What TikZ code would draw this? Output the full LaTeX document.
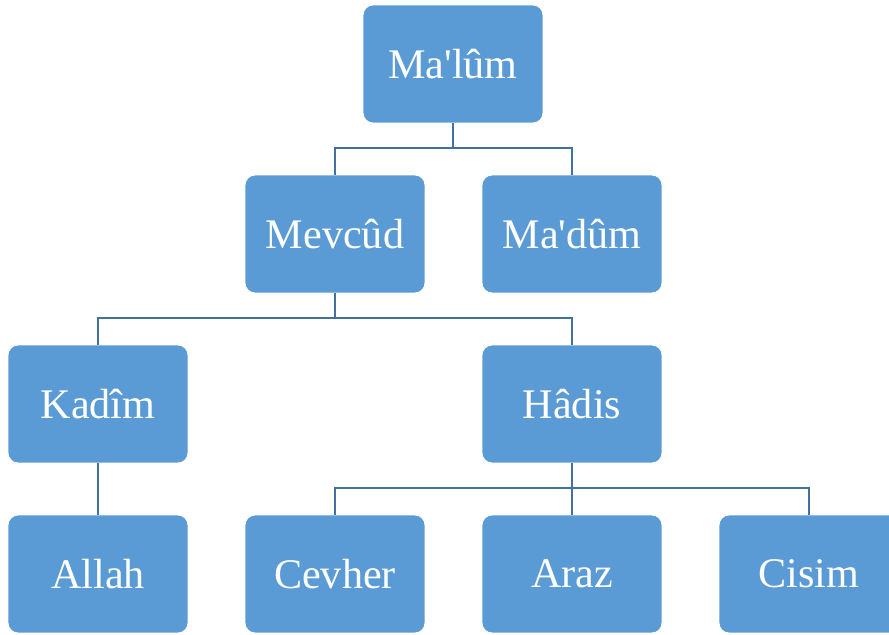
\documentclass[tikz,border=0pt]{standalone}
\usepackage{fontspec}
\setmainfont{Liberation Serif}
\definecolor{boxblue}{HTML}{5B9BD5}
\definecolor{linkblue}{HTML}{41719C}
\begin{document}
\begin{tikzpicture}[
 x=0.02cm, y=-0.02cm,
 line width=1.1pt,
 align=center,
 inner sep=1mm,
 box/.style={draw=white,line width=0.5pt,fill=boxblue,rectangle,rounded corners=0.2cm,minimum width=3.6cm,minimum height=2.36cm,text=white,font=\fontsize{24}{28}\selectfont},
 link/.style={draw=linkblue}
]
\useasboundingbox (0,0) rectangle (889,635);
\node (malum-box) [box] at (453,64) {Ma\textquotesingle lûm};
\node (mevcud-box) [box] at (335,234) {Mevcûd};
\node (madum-box) [box] at (572,234) {Ma\textquotesingle dûm};
\node (kadim-box) [box] at (98,404) {Kadîm};
\node (hadis-box) [box] at (572,404) {Hâdis};
\node (allah-box) [box] at (98,574) {Allah};
\node (cevher-box) [box] at (335,574) {Cevher};
\node (araz-box) [box] at (572,574) {Araz};
\node (cisim-box) [box] at (809,574) {Cisim};
\draw [link] (malum-box.south) -- ++(0,25) -| (mevcud-box.north);
\draw [link] (malum-box.south) -- ++(0,25) -| (madum-box.north);
\draw [link] (mevcud-box.south) -- ++(0,25) -| (kadim-box.north);
\draw [link] (mevcud-box.south) -- ++(0,25) -| (hadis-box.north);
\draw [link] (kadim-box.south) -- (allah-box.north);
\draw [link] (hadis-box.south) -- ++(0,25) -| (cevher-box.north);
\draw [link] (hadis-box.south) -- (araz-box.north);
\draw [link] (hadis-box.south) -- ++(0,25) -| (cisim-box.north);
\end{tikzpicture}
\end{document}
